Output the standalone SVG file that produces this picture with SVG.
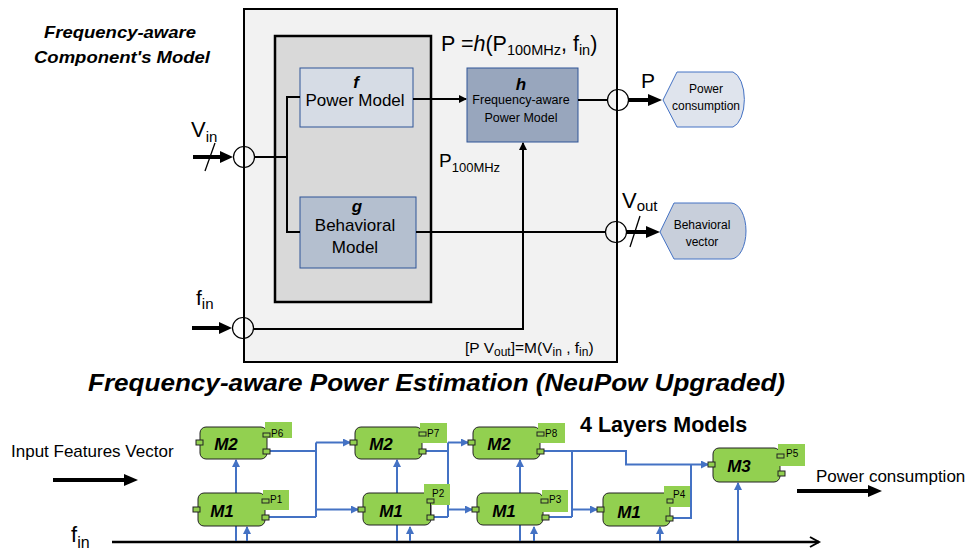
<svg xmlns="http://www.w3.org/2000/svg" width="972" height="551" viewBox="0 0 972 551">
<style>
text{font-family:"Liberation Sans",Arial,sans-serif;fill:#000}
.bi{font-weight:bold;font-style:italic}
.ln{stroke:#000;stroke-width:2;fill:none}
.thick{stroke:#000;stroke-width:4;fill:none}
.port{fill:none;stroke:#000;stroke-width:1.2}
.blue{stroke:#4472c4;stroke-width:2;fill:none}
.node{fill:#92d050;stroke:#222;stroke-width:1}
.plab{fill:#92d050}
.pt{fill:#92d050;stroke:#222;stroke-width:1}
.mt{font-size:17px;font-weight:bold;font-style:italic;text-anchor:middle}
.ps{font-size:10px}
</style>
<defs>
<marker id="ba" viewBox="0 0 8 8" refX="7" refY="4" markerWidth="8" markerHeight="8" markerUnits="userSpaceOnUse" orient="auto"><path d="M0,0 L8,4 L0,8 z" fill="#4472c4"/></marker>
<marker id="ka" viewBox="0 0 8 8" refX="7" refY="4" markerWidth="8" markerHeight="8" markerUnits="userSpaceOnUse" orient="auto"><path d="M0,0 L8,4 L0,8 z" fill="#000"/></marker>
</defs>

<!-- Top title -->
<g id="title-top">
<text class="bi" x="120" y="38" font-size="17" text-anchor="middle" textLength="152" lengthAdjust="spacingAndGlyphs">Frequency-aware</text>
<text class="bi" x="122" y="63" font-size="17" text-anchor="middle" textLength="176" lengthAdjust="spacingAndGlyphs">Component's Model</text>
</g>

<!-- Outer model box -->
<g id="outer-box">
<rect x="244" y="9" width="373" height="353" fill="#f2f2f2" stroke="#000" stroke-width="2"/>
<text x="465" y="353" font-size="15.5">[P V<tspan font-size="12" dy="3">out</tspan><tspan dy="-3">]=M(V</tspan><tspan font-size="12" dy="3">in</tspan><tspan dy="-3"> , f</tspan><tspan font-size="12" dy="3">in</tspan><tspan dy="-3">)</tspan></text>
</g>
<g id="inner-box">
<rect x="275" y="36" width="156" height="266" fill="#d9d9d9" stroke="#000" stroke-width="2.5"/>
</g>

<g id="f-box">
<rect x="300" y="68" width="113" height="59" fill="#d6dce5" stroke="#2f5597" stroke-width="1"/>
<text class="bi" x="356" y="88" font-size="17" text-anchor="middle">f</text>
<text x="355" y="106" font-size="17" text-anchor="middle">Power Model</text>
</g>

<g id="g-box">
<rect x="300" y="197" width="116" height="71" fill="#b4bfcf" stroke="#2f5597" stroke-width="1"/>
<text class="bi" x="357" y="212" font-size="17" text-anchor="middle">g</text>
<text x="355" y="231" font-size="17" text-anchor="middle">Behavioral</text>
<text x="355" y="253" font-size="17" text-anchor="middle">Model</text>
</g>

<g id="h-box">
<rect x="467" y="68" width="111" height="74" fill="#98a6bd" stroke="#2f5597" stroke-width="1"/>
<text class="bi" x="521" y="90" font-size="17" text-anchor="middle">h</text>
<text x="521" y="104" font-size="12.5" text-anchor="middle">Frequency-aware</text>
<text x="521" y="122" font-size="12.5" text-anchor="middle">Power Model</text>
</g>

<g id="eq-label">
<text x="441" y="51" font-size="21.5">P =<tspan font-style="italic">h</tspan>(P<tspan font-size="14.5" dy="4">100MHz</tspan><tspan dy="-4">, f</tspan><tspan font-size="14.5" dy="4">in</tspan><tspan dy="-4">)</tspan></text>
<text x="439" y="167" font-size="19">P<tspan font-size="13" dy="5">100MHz</tspan></text>
</g>

<g id="power-consumption-out">
<path d="M663,100 L677,72 L733,72 A14,28 0 0 1 733,127 L677,127 Z" fill="#dfe4ed" stroke="#4472c4" stroke-width="1"/>
<text x="706" y="93" font-size="12" text-anchor="middle">Power</text>
<text x="706" y="110" font-size="12" text-anchor="middle">consumption</text>
</g>

<g id="behavioral-vector-out">
<path d="M660,232 L674,203 L731,203 A15,28 0 0 1 731,259 L674,259 Z" fill="#c8cfdb" stroke="#4472c4" stroke-width="1"/>
<text x="702" y="229" font-size="12" text-anchor="middle">Behavioral</text>
<text x="702" y="246" font-size="12" text-anchor="middle">vector</text>
</g>

<g id="io-labels">
<text x="191" y="137" font-size="22">V<tspan font-size="15" dy="5">in</tspan></text>
<text x="196" y="305" font-size="21">f<tspan font-size="15" dy="4">in</tspan></text>
<text x="641" y="88" font-size="21">P</text>
<text x="622" y="208" font-size="22">V<tspan font-size="15" dy="3">out</tspan></text>
</g>

<!-- Top connectors -->
<g id="top-connectors">
<circle cx="244" cy="157" r="10.5" class="port"/>
<circle cx="243" cy="328" r="10.5" class="port"/>
<circle cx="618" cy="100" r="10.5" class="port"/>
<circle cx="616" cy="232" r="10.5" class="port"/>
<line x1="193" y1="157" x2="223" y2="157" class="thick"/>
<path d="M220,151 L233,157 L220,163 Z" fill="#000"/>
<line x1="205" y1="171" x2="215" y2="143" stroke="#000" stroke-width="1.3"/>
<line x1="192" y1="328" x2="222" y2="328" class="thick"/>
<path d="M219,322 L232,328 L219,334 Z" fill="#000"/>
<polyline points="255,157 287,157" class="ln"/>
<polyline points="300,97 287,97 287,232 300,232" class="ln"/>
<line x1="413" y1="99" x2="466" y2="99" class="ln" marker-end="url(#ka)"/>
<polyline points="254,329 523,329 523,143" class="ln" marker-end="url(#ka)"/>
<line x1="578" y1="100" x2="607" y2="100" class="ln"/>
<line x1="629" y1="100" x2="650" y2="100" class="thick"/>
<path d="M648,94 L662,100 L648,106 Z" fill="#000"/>
<line x1="416" y1="232" x2="605" y2="232" class="ln"/>
<line x1="627" y1="232" x2="648" y2="232" class="thick"/>
<path d="M646,226 L660,232 L646,238 Z" fill="#000"/>
<line x1="630" y1="247" x2="640" y2="216" stroke="#000" stroke-width="1.3"/>
</g>

<!-- Bottom title -->
<g id="title-bottom">
<text class="bi" x="88" y="391" font-size="24" textLength="697" lengthAdjust="spacingAndGlyphs">Frequency-aware Power Estimation (NeuPow Upgraded)</text>
<text x="580" y="432" font-size="21.5" font-weight="bold">4 Layers Models</text>
</g>

<g id="bottom-labels">
<text x="11" y="457" font-size="17">Input Features Vector</text>
<line x1="53" y1="480" x2="126" y2="480" class="thick"/>
<path d="M124,474 L138,480 L124,486 Z" fill="#000"/>
<text x="816" y="482" font-size="17">Power consumption</text>
<line x1="797" y1="491" x2="870" y2="491" class="thick"/>
<path d="M868,485 L882,491 L868,497 Z" fill="#000"/>
<text x="71" y="542" font-size="22">f<tspan font-size="16" dy="6">in</tspan></text>
<line x1="112" y1="542" x2="819" y2="542" stroke="#000" stroke-width="2.5"/>
<polyline points="810,537 819,542 810,547" stroke="#000" stroke-width="2" fill="none"/>
</g>

<!-- Blue connectors -->
<g id="bottom-connectors">
<line x1="236" y1="541" x2="236" y2="460" class="blue" marker-end="url(#ba)"/>
<line x1="247" y1="541" x2="247" y2="527" class="blue" marker-end="url(#ba)"/>
<polyline points="270,451 316,451" class="blue"/>
<polyline points="269,517 316,517" class="blue"/>
<line x1="316" y1="442.5" x2="316" y2="517" class="blue"/>
<line x1="316" y1="442.5" x2="350" y2="442.5" class="blue" marker-end="url(#ba)"/>
<line x1="316" y1="509.5" x2="358" y2="509.5" class="blue" marker-end="url(#ba)"/>

<line x1="397" y1="541" x2="397" y2="460" class="blue" marker-end="url(#ba)"/>
<line x1="410" y1="541" x2="410" y2="527" class="blue" marker-end="url(#ba)"/>
<polyline points="426,451 448,451" class="blue"/>
<polyline points="434,517 448,517" class="blue"/>
<line x1="448" y1="442.5" x2="448" y2="517" class="blue"/>
<line x1="448" y1="442.5" x2="468" y2="442.5" class="blue" marker-end="url(#ba)"/>
<line x1="448" y1="509.5" x2="472" y2="509.5" class="blue" marker-end="url(#ba)"/>

<line x1="520" y1="541" x2="520" y2="460" class="blue" marker-end="url(#ba)"/>
<line x1="534" y1="541" x2="534" y2="527" class="blue" marker-end="url(#ba)"/>
<polyline points="544,451 626,451 626,464.5 708,464.5" class="blue" marker-end="url(#ba)"/>
<line x1="572" y1="451" x2="572" y2="517" class="blue"/>
<polyline points="549,517 572,517" class="blue"/>
<line x1="572" y1="509.5" x2="597" y2="509.5" class="blue" marker-end="url(#ba)"/>

<line x1="660" y1="541" x2="660" y2="527" class="blue" marker-end="url(#ba)"/>
<polyline points="673,518 691,518 691,464.5" class="blue"/>
<line x1="738" y1="541" x2="738" y2="483" class="blue" marker-end="url(#ba)"/>
</g>

<!-- Nodes -->
<g id="m2-a">
<rect x="200" y="427" width="67" height="32" rx="6" class="node"/>
<rect x="265" y="422" width="27" height="16" class="plab"/>
<rect x="196" y="440" width="7" height="5" class="pt"/>
<rect x="263" y="433" width="7" height="4" class="pt"/>
<rect x="263" y="449" width="7" height="5" class="pt"/>
<text x="226" y="450" class="mt">M2</text>
<text x="271" y="437" class="ps">P6</text>
</g>
<g id="m1-a">
<rect x="198" y="493" width="67" height="33" rx="6" class="node"/>
<rect x="263" y="490" width="26" height="20" class="plab"/>
<rect x="193" y="507" width="7" height="5" class="pt"/>
<rect x="262" y="499" width="7" height="4" class="pt"/>
<rect x="262" y="515" width="7" height="5" class="pt"/>
<text x="222" y="517" class="mt">M1</text>
<text x="270" y="503" class="ps">P1</text>
</g>
<g id="m2-b">
<rect x="355" y="427" width="67" height="32" rx="6" class="node"/>
<rect x="420" y="423" width="27" height="20" class="plab"/>
<rect x="350" y="440" width="7" height="5" class="pt"/>
<rect x="419" y="432" width="7" height="4" class="pt"/>
<rect x="419" y="449" width="7" height="5" class="pt"/>
<text x="381" y="450" class="mt">M2</text>
<text x="427" y="437" class="ps">P7</text>
</g>
<g id="m1-b">
<rect x="363" y="493" width="68" height="32" rx="6" class="node"/>
<rect x="424" y="484" width="26" height="21" class="plab"/>
<rect x="358" y="507" width="7" height="5" class="pt"/>
<rect x="427" y="499" width="7" height="4" class="pt"/>
<rect x="427" y="515" width="7" height="5" class="pt"/>
<line x1="430.5" y1="503" x2="430.5" y2="515" stroke="#222" stroke-width="1"/>
<text x="391" y="517" class="mt">M1</text>
<text x="432" y="497" class="ps">P2</text>
</g>
<g id="m2-c">
<rect x="473" y="427" width="67" height="32" rx="6" class="node"/>
<rect x="538" y="423" width="27" height="20" class="plab"/>
<rect x="468" y="440" width="7" height="5" class="pt"/>
<rect x="537" y="432" width="7" height="4" class="pt"/>
<rect x="537" y="449" width="7" height="5" class="pt"/>
<text x="499" y="450" class="mt">M2</text>
<text x="545" y="437" class="ps">P8</text>
</g>
<g id="m1-c">
<rect x="477" y="493" width="66" height="32" rx="6" class="node"/>
<rect x="542" y="490" width="26" height="22" class="plab"/>
<rect x="472" y="507" width="7" height="5" class="pt"/>
<rect x="541" y="499" width="7" height="4" class="pt"/>
<rect x="542" y="515" width="7" height="5" class="pt"/>
<text x="504" y="517" class="mt">M1</text>
<text x="549" y="503" class="ps">P3</text>
</g>
<g id="m1-d">
<rect x="603" y="493" width="67" height="33" rx="6" class="node"/>
<rect x="664" y="486" width="26" height="21" class="plab"/>
<rect x="597" y="507" width="7" height="5" class="pt"/>
<rect x="667" y="499" width="6" height="4" class="pt"/>
<rect x="666" y="516" width="7" height="5" class="pt"/>
<text x="629" y="518" class="mt">M1</text>
<text x="673" y="498" class="ps">P4</text>
</g>
<g id="m3">
<rect x="713" y="448" width="67" height="34" rx="6" class="node"/>
<rect x="778" y="444" width="27" height="22" class="plab"/>
<rect x="708" y="462" width="7" height="5" class="pt"/>
<rect x="777" y="454" width="7" height="4" class="pt"/>
<rect x="778" y="471" width="7" height="5" class="pt"/>
<text x="739" y="472" class="mt">M3</text>
<text x="786" y="457" class="ps">P5</text>
</g>
</svg>
